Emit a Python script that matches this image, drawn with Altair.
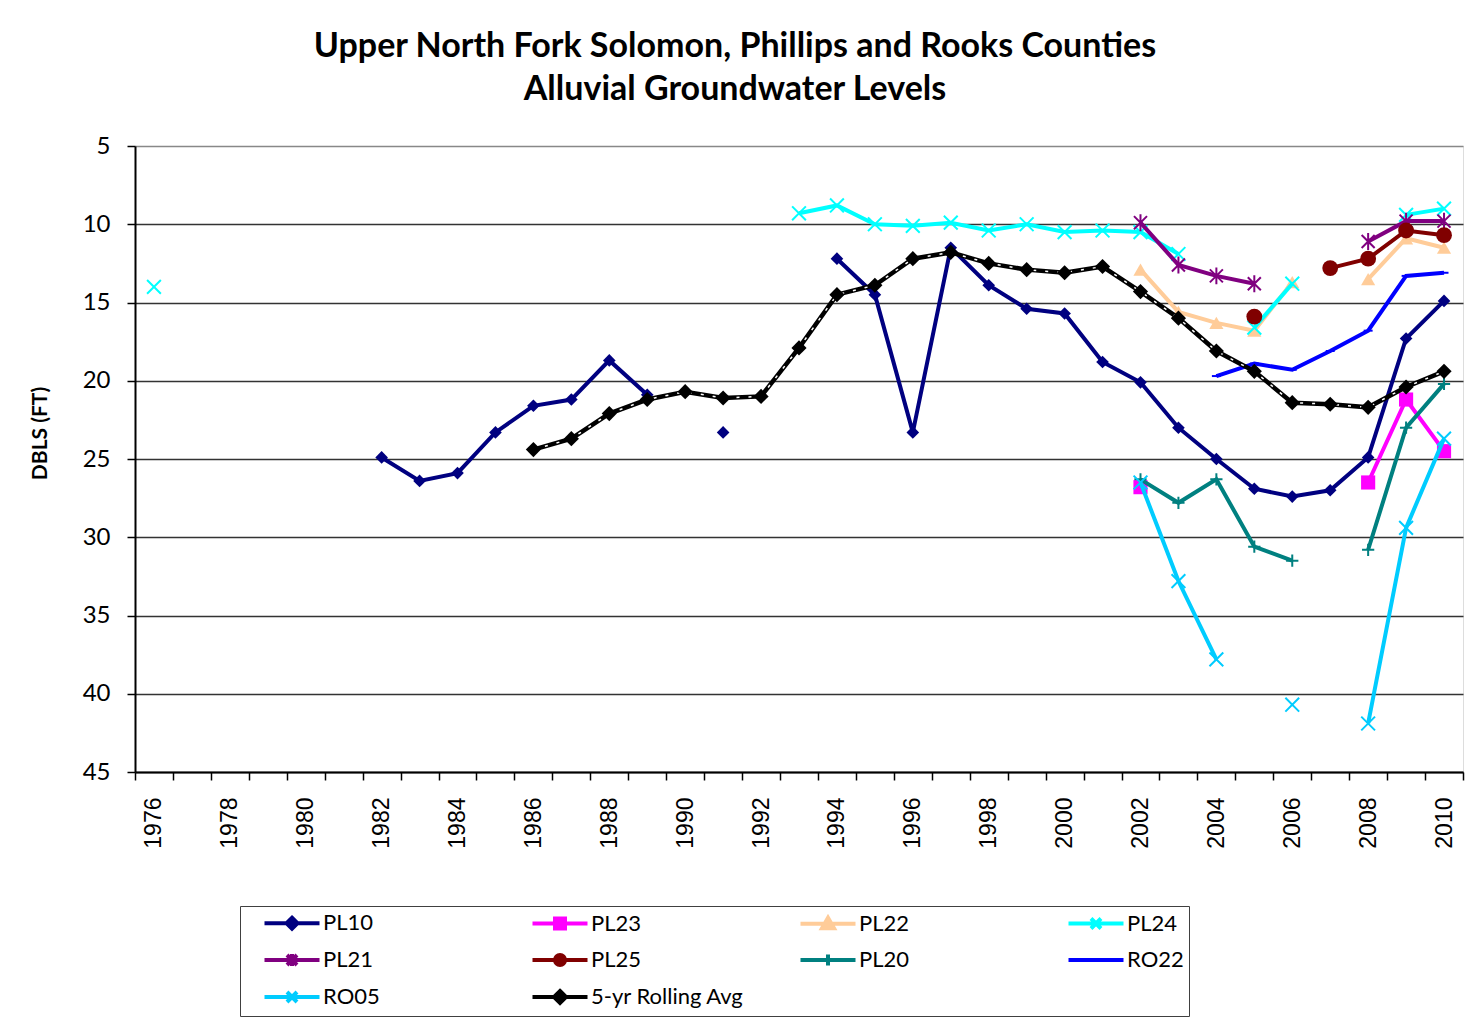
import altair as alt
import pandas as pd

SERIES = ["PL10", "PL23", "PL22", "PL24", "PL21", "PL25", "PL20", "RO22", "RO05", "5-yr Rolling Avg"]
COLORS = ["#000080", "#FF00FF", "#FFCC99", "#00FFFF", "#800080", "#800000", "#008080", "#0000FF", "#00CCFF", "#000000"]

# None marks a gap (line break) in a series
PL10_YEARS = [1982, 1983, 1984, 1985, 1986, 1987, 1988, 1989, 1990, 1991, 1992,
              1994, 1995, 1996, 1997, 1998, 1999, 2000, 2001, 2002, 2003, 2004, 2005, 2006, 2007, 2008, 2009, 2010]
PL10_VALUES = [24.9, 26.4, 25.9, 23.3, 21.6, 21.2, 18.7, 20.9, None, 23.3, None,
               12.2, 14.5, 23.3, 11.5, 13.9, 15.4, 15.7, 18.8, 20.1, 23.0, 25.0, 26.9, 27.4, 27.0, 24.9, 17.3, 14.9]

PL23_YEARS = [2002, 2003, 2008, 2009, 2010]
PL23_VALUES = [26.8, None, 26.5, 21.2, 24.5]

PL22_YEARS = [2002, 2003, 2004, 2005, 2006, 2007, 2008, 2009, 2010]
PL22_VALUES = [12.9, 15.6, 16.3, 16.8, 13.7, None, 13.5, 10.9, 11.5]

PL24_YEARS = [1976, 1977, 1993, 1994, 1995, 1996, 1997, 1998, 1999, 2000, 2001, 2002, 2003, 2004,
              2005, 2006, 2007, 2009, 2010]
PL24_VALUES = [14.0, None, 9.3, 8.8, 10.0, 10.1, 9.9, 10.4, 10.0, 10.5, 10.4, 10.5, 11.9, None,
               16.6, 13.8, None, 9.4, 9.0]

PL21_YEARS = [2002, 2003, 2004, 2005, 2006, 2008, 2009, 2010]
PL21_VALUES = [9.9, 12.6, 13.3, 13.8, None, 11.1, 9.8, 9.8]

PL25_YEARS = [2005, 2006, 2007, 2008, 2009, 2010]
PL25_VALUES = [15.9, None, 12.8, 12.2, 10.4, 10.7]

PL20_YEARS = [2002, 2003, 2004, 2005, 2006, 2007, 2008, 2009, 2010]
PL20_VALUES = [26.3, 27.8, 26.3, 30.6, 31.5, None, 30.8, 23.0, 20.2]

RO22_YEARS = [2004, 2005, 2006, 2007, 2008, 2009, 2010]
RO22_VALUES = [19.7, 18.9, 19.3, 18.1, 16.8, 13.3, 13.1]

RO05_YEARS = [2002, 2003, 2004, 2005, 2006, 2007, 2008, 2009, 2010]
RO05_VALUES = [26.5, 32.8, 37.8, None, 40.7, None, 41.9, 29.4, 23.7]

ROLL_YEARS = [1986, 1987, 1988, 1989, 1990, 1991, 1992, 1993, 1994, 1995, 1996, 1997, 1998,
              1999, 2000, 2001, 2002, 2003, 2004, 2005, 2006, 2007, 2008, 2009, 2010]
ROLL_VALUES = [24.4, 23.7, 22.1, 21.2, 20.7, 21.1, 21.0, 17.9, 14.5, 13.9, 12.2, 11.8, 12.5,
               12.9, 13.1, 12.7, 14.3, 16.0, 18.1, 19.4, 21.4, 21.5, 21.7, 20.4, 19.4]

Y_TICKS = [5, 10, 15, 20, 25, 30, 35, 40, 45]
X_TICKS = [y + 0.5 for y in range(1975, 2011)]  # category boundaries

SOURCES = [
    ("PL10", PL10_YEARS, PL10_VALUES),
    ("PL23", PL23_YEARS, PL23_VALUES),
    ("PL22", PL22_YEARS, PL22_VALUES),
    ("PL24", PL24_YEARS, PL24_VALUES),
    ("PL21", PL21_YEARS, PL21_VALUES),
    ("PL25", PL25_YEARS, PL25_VALUES),
    ("PL20", PL20_YEARS, PL20_VALUES),
    ("RO22", RO22_YEARS, RO22_VALUES),
    ("RO05", RO05_YEARS, RO05_VALUES),
    ("5-yr Rolling Avg", ROLL_YEARS, ROLL_VALUES),
]

rows = []
for name, years, values in SOURCES:
    seg = 0
    for yr, v in zip(years, values):
        if v is None:
            seg += 1
            continue
        rows.append({"series": name, "year": yr, "value": v, "seg": f"{name}-{seg}"})
df = pd.DataFrame(rows)

# marker styles: (shape, filled, size, strokeWidth)
X_PATH = "M-1,-1L1,1M-1,1L1,-1"
AST_PATH = "M-1,-1L1,1M-1,1L1,-1M0,-1.3L0,1.3"
PLUS_PATH = "M-1,0L1,0M0,-1L0,1"
DASH_PATH = "M-1,0L1,0"
MARKERS = {
    "PL10": ("diamond", True, 160, 1),
    "PL23": ("square", True, 200, 1),
    "PL22": ("triangle-up", True, 200, 1),
    "PL24": (X_PATH, False, 190, 2),
    "PL21": (AST_PATH, False, 170, 2),
    "PL25": ("circle", True, 250, 1),
    "PL20": (PLUS_PATH, False, 150, 2),
    "RO22": (DASH_PATH, False, 80, 2),
    "RO05": (X_PATH, False, 190, 2),
    "5-yr Rolling Avg": ("diamond", True, 230, 1),
}

# legend symbols: line + marker
LEG_LINE = "M-2.75,0L2.75,0"
LEGEND_PATHS = [
    LEG_LINE + "M0,-0.55L0.55,0L0,0.55L-0.55,0Z",
    LEG_LINE + "M-0.5,-0.5L0.5,-0.5L0.5,0.5L-0.5,0.5Z",
    LEG_LINE + "M0,-0.6L0.6,0.45L-0.6,0.45Z",
    LEG_LINE + "M-0.5,-0.5L0.5,0.5M-0.5,0.5L0.5,-0.5",
    LEG_LINE + "M-0.5,-0.5L0.5,0.5M-0.5,0.5L0.5,-0.5M0,-0.6L0,0.6",
    LEG_LINE + "M0.5,0A0.5,0.5,0,1,1,-0.5,0A0.5,0.5,0,1,1,0.5,0Z",
    LEG_LINE + "M0,-0.55L0,0.55",
    LEG_LINE,
    LEG_LINE + "M-0.5,-0.5L0.5,0.5M-0.5,0.5L0.5,-0.5",
    LEG_LINE + "M0,-0.6L0.6,0L0,0.6L-0.6,0Z",
]

x_axis = alt.Axis(
    values=X_TICKS, title=None, grid=False, orient="bottom",
    labelExpr="((datum.value + 0.5) % 2 == 0) && datum.value < 2010 ? format(datum.value + 0.5, 'd') : ''",
    labelOffset=18.97, labelAngle=270, labelAlign="right", labelBaseline="middle",
    labelPadding=17, labelFont="Liberation Sans", labelFontSize=23, labelColor="black",
    labelOverlap=False, labelBound=False, labelFlush=False,
    tickSize=8, tickColor="black", tickWidth=1.5,
    domainColor="black", domainWidth=2,
)
y_axis = alt.Axis(
    values=Y_TICKS, title="DBLS (FT)", grid=True,
    gridColor={"condition": {"test": "datum.value == 5", "value": "#888888"}, "value": "#333333"},
    gridWidth=1.5,
    labelFont="Lato", labelFontSize=24, labelColor="black", labelPadding=17,
    tickSize=8, tickColor="black", tickWidth=1.5, domainColor="black", domainWidth=2,
    titleFont="Lato", titleFontSize=21, titleFontWeight="bold", titleColor="black",
    titleX=-95, titleY=287, titleAngle=270, titleAlign="center", titleBaseline="middle",
)

X = alt.X("year:Q", scale=alt.Scale(domain=[1975.5, 2010.5], nice=False, zero=False), axis=x_axis)
Y = alt.Y("value:Q", scale=alt.Scale(domain=[5, 45], reverse=True, nice=False, zero=False), axis=y_axis)

layers = []
for name, color in zip(SERIES, COLORS):
    base = alt.Chart(df).transform_filter(alt.datum.series == name)
    lw = 4.5 if name == "5-yr Rolling Avg" else 4
    layers.append(base.mark_line(color=color, strokeWidth=lw).encode(x=X, y=Y, detail="seg:N"))
    if name == "5-yr Rolling Avg":
        layers.append(base.mark_line(color="white", strokeWidth=1.5, strokeDash=[3, 9]).encode(
            x=X, y=Y, detail="seg:N"))
    shape, filled, size, sw = MARKERS[name]
    layers.append(base.mark_point(shape=shape, filled=filled, color=color, size=size,
                                  strokeWidth=sw, opacity=1).encode(x=X, y=Y))

legend = alt.Legend(
    title=None, orient="none", direction="horizontal", legendX=105, legendY=760,
    columns=4, gridAlign="all",
    columnPadding=36, rowPadding=9, symbolSize=400, symbolStrokeWidth=4,
    symbolOffset=35, labelOffset=19, labelFont="Lato", labelFontSize=22, labelColor="black",
    labelLimit=0, padding=5, strokeColor="#404040", fillColor="white",
)
sc = alt.Scale(domain=SERIES, range=COLORS)
legend_layer = alt.Chart(df).transform_filter("datum.value < -999").mark_point(
    filled=True, opacity=1
).encode(
    x=X, y=Y,
    color=alt.Color("series:N", scale=sc, legend=legend, sort=SERIES),
    stroke=alt.Stroke("series:N", scale=sc, legend=legend, sort=SERIES),
    shape=alt.Shape("series:N", scale=alt.Scale(domain=SERIES, range=LEGEND_PATHS), legend=legend, sort=SERIES),
)
layers.append(legend_layer)

chart = alt.layer(*layers).properties(
    width=1328, height=626,
    title=alt.TitleParams(
        text=["Upper North Fork Solomon, Phillips and Rooks Counties", "Alluvial Groundwater Levels"],
        font="Lato", fontSize=34, fontWeight="bold", color="black", anchor="middle",
        dx=-64, offset=27, lineHeight=43,
    ),
    autosize=alt.AutoSizeParams(type="none"),
    padding={"left": 127, "top": 138, "right": 9, "bottom": 250},
).configure_view(
    stroke="#888888", strokeWidth=2, fill="#C0C0C0"
).configure(background="white")

chart.save("out.html", embed_options={"renderer": "svg", "actions": False})
